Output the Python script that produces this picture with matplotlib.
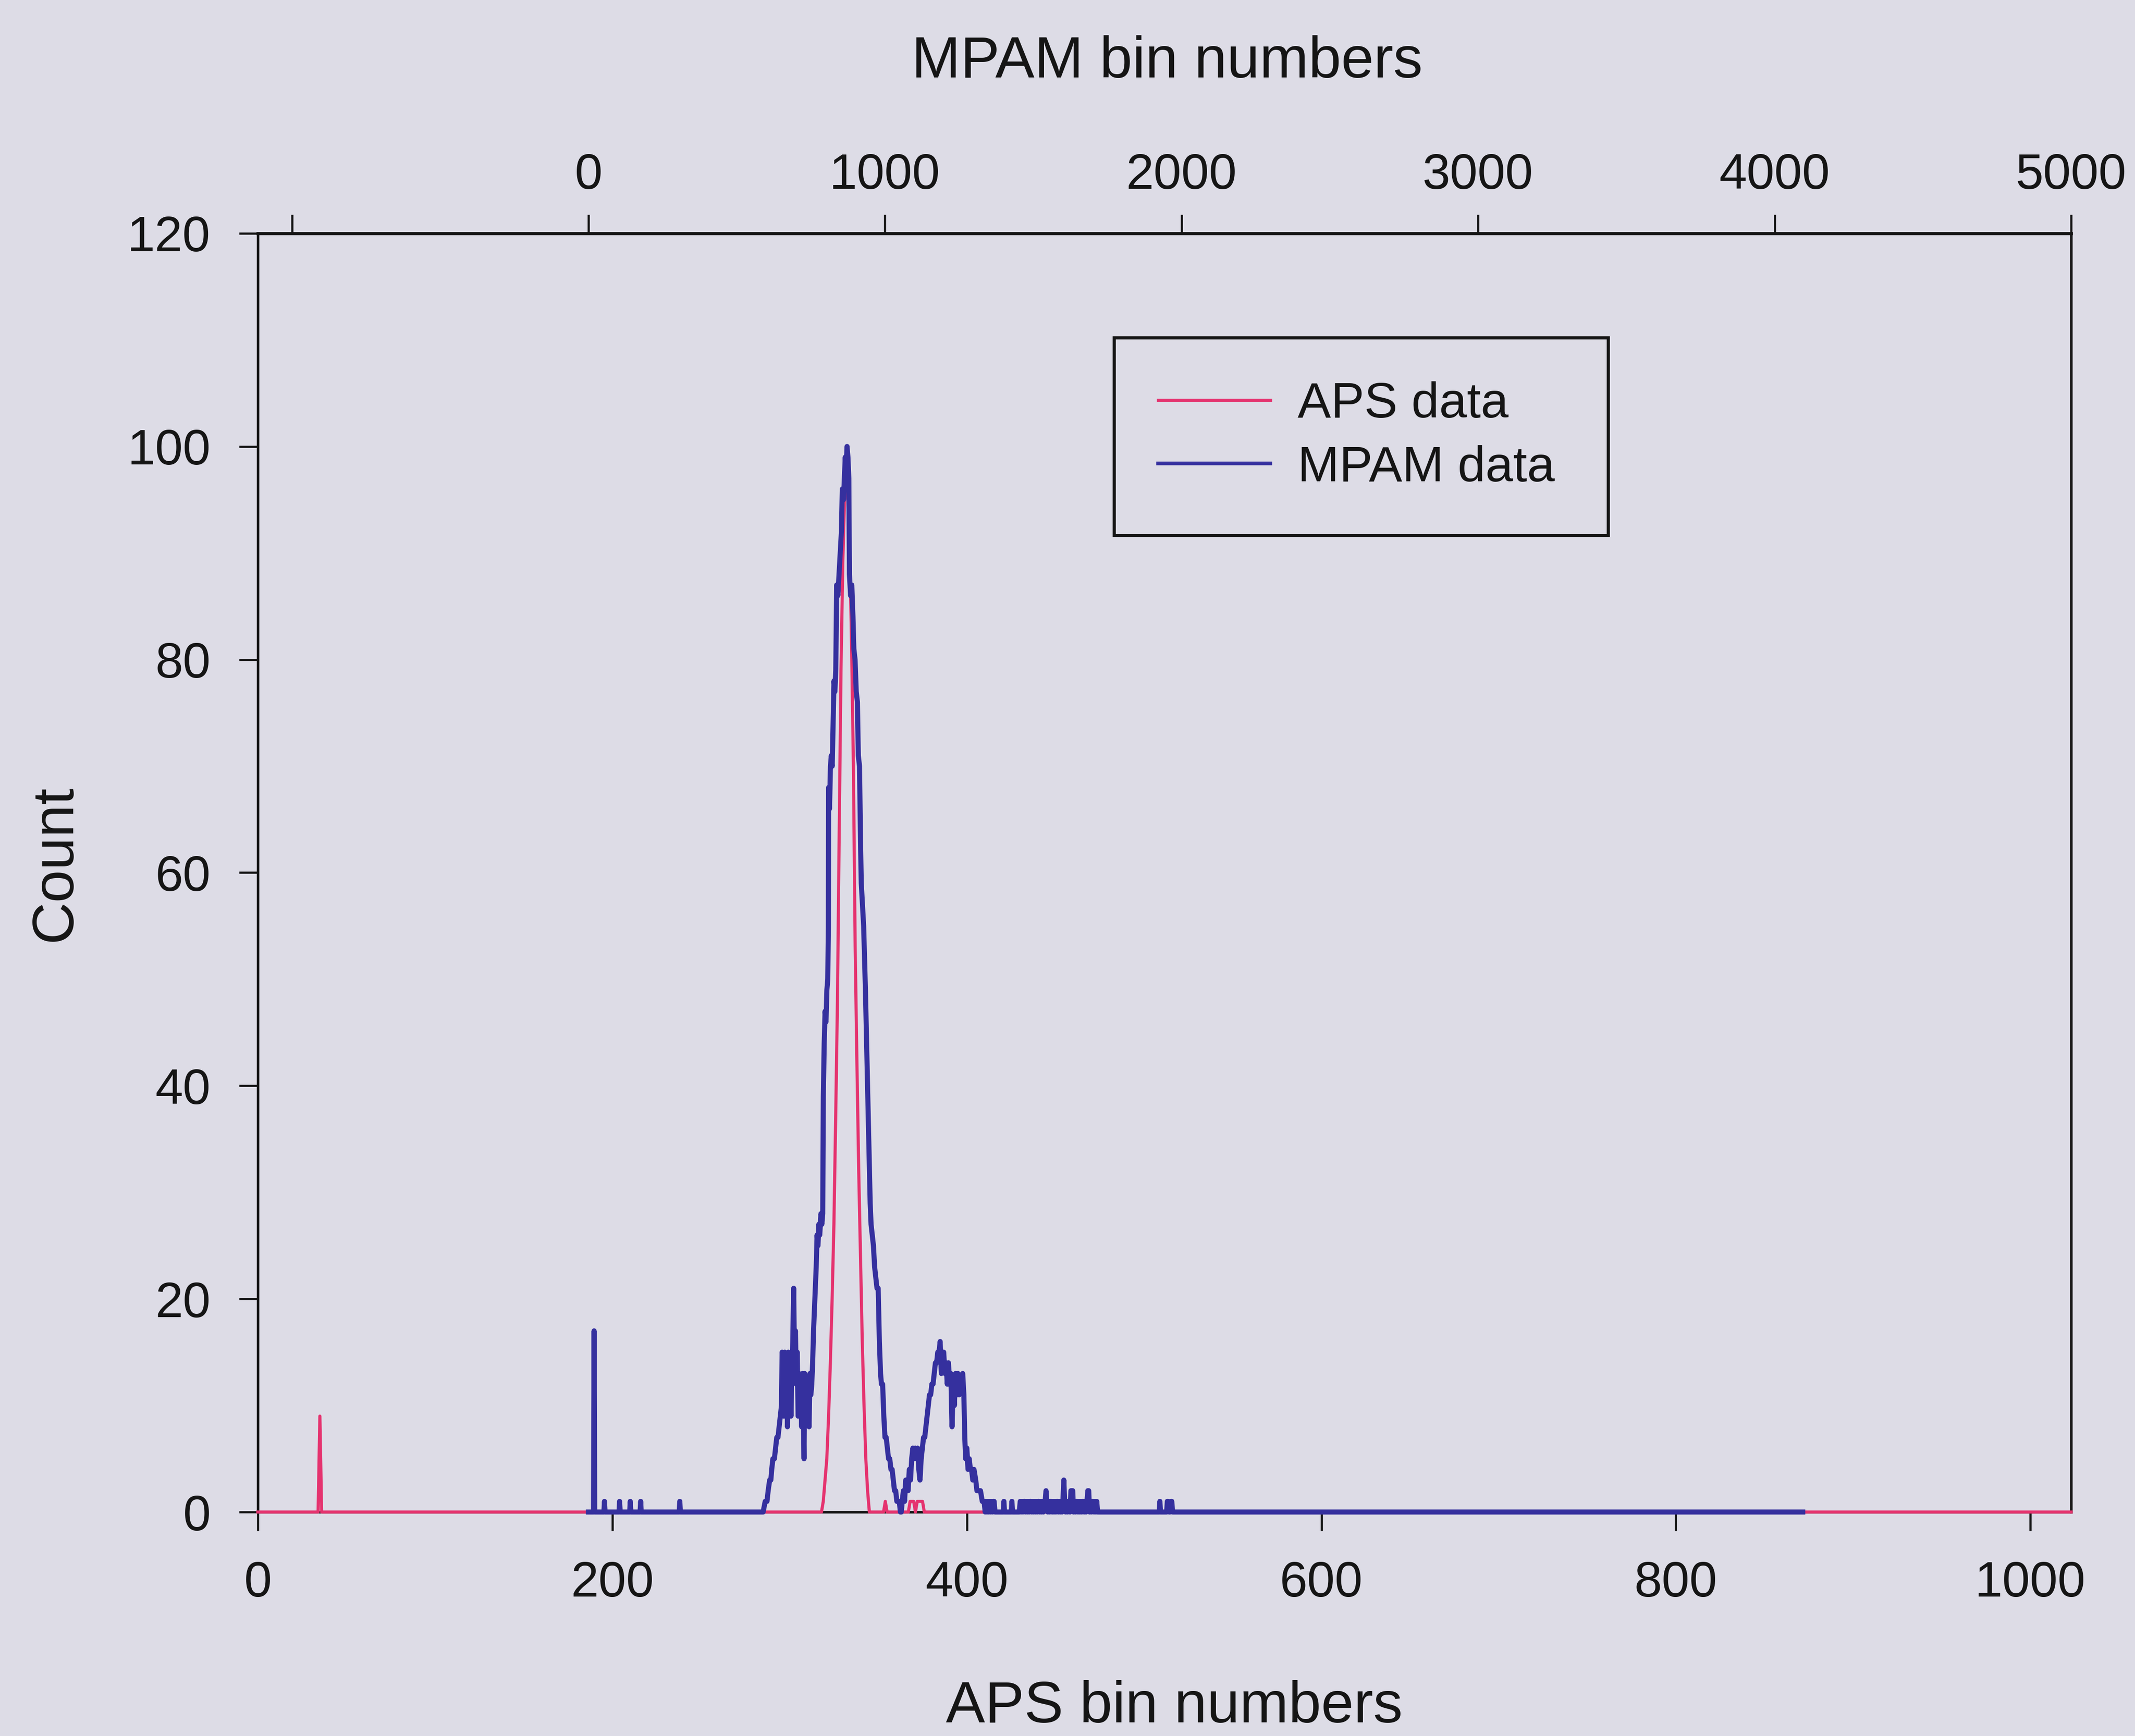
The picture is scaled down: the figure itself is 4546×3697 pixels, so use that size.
import numpy as np
import matplotlib
matplotlib.use("Agg")
import matplotlib.pyplot as plt

plt.rcParams['font.family'] = ['Liberation Sans', 'DejaVu Sans']

# ---------------- data ----------------
# APS histogram: 1024 bins, all empty except the bins listed here
aps_nbins = 1024
aps_nonzero_bins = [35,
                    319, 320, 321, 322, 323, 324, 325, 326, 327, 328, 329, 330,
                    331, 332, 333, 334, 335, 336, 337, 338, 339, 340, 341, 342,
                    343, 344,
                    354,
                    368, 369, 370, 372, 373, 374, 375]
aps_nonzero_counts = [9,
                      1, 3, 5, 9, 14, 20, 27, 37, 48, 64, 79, 89,
                      95, 97, 95, 90, 81, 70, 53, 42, 32, 24, 16, 10,
                      5, 2,
                      1,
                      1, 1, 1, 1, 1, 1, 1]

# MPAM histogram (4096 channels), traced as bin / count vertices
mpam_bins = [
    0, 17, 19, 21, 52, 54, 56, 103, 105, 107, 139, 141, 143, 174, 176, 178,
    306, 308, 310, 589, 596, 602, 606, 611, 615, 618, 622, 627, 631, 635,
    639, 643, 647, 651, 653, 656, 659, 662, 665, 668, 671, 674, 677, 680,
    683, 686, 689, 692, 695, 698, 701, 704, 707, 710, 713, 716, 719, 722,
    725, 727, 729, 732, 735, 738, 741, 744, 747, 750, 753, 756, 759, 762,
    765, 768, 771, 774, 777, 780, 784, 787, 790, 792, 795, 798, 801, 804,
    807, 809, 810, 813, 816, 819, 822, 825, 828, 831, 834, 837, 841, 845,
    849, 853, 856, 860, 863, 866, 869, 872, 875, 878, 880, 884, 888, 892,
    895, 899, 903, 907, 910, 914, 918, 920, 924, 928, 931, 934, 938, 942,
    946, 950, 953, 957, 961, 965, 969, 973, 977, 981, 985, 988, 992, 996,
    1000, 1004, 1008, 1012, 1016, 1020, 1024, 1028, 1032, 1036, 1040, 1044,
    1048, 1052, 1055, 1058, 1062, 1066, 1070, 1074, 1078, 1082, 1086, 1090,
    1094, 1098, 1102, 1106, 1110, 1114, 1118, 1122, 1126, 1130, 1134, 1138,
    1142, 1146, 1150, 1154, 1158, 1162, 1166, 1170, 1174, 1178, 1182, 1186,
    1190, 1194, 1198, 1202, 1206, 1210, 1214, 1218, 1222, 1226, 1230, 1234,
    1238, 1242, 1246, 1250, 1254, 1258, 1262, 1266, 1269, 1272, 1276, 1280,
    1284, 1288, 1292, 1296, 1300, 1306, 1310, 1316, 1322, 1328, 1334, 1338,
    1341, 1344, 1347, 1350, 1353, 1356, 1359, 1362, 1365, 1368, 1371, 1399,
    1401, 1403, 1426, 1428, 1430, 1453, 1456, 1459, 1462, 1465, 1468, 1471,
    1474, 1477, 1480, 1483, 1486, 1489, 1492, 1495, 1498, 1501, 1504, 1507,
    1510, 1513, 1516, 1519, 1522, 1525, 1528, 1531, 1534, 1537, 1540, 1543,
    1546, 1549, 1552, 1555, 1558, 1561, 1564, 1567, 1570, 1573, 1576, 1579,
    1582, 1585, 1588, 1591, 1594, 1597, 1600, 1603, 1606, 1609, 1612, 1615,
    1618, 1621, 1624, 1627, 1630, 1633, 1636, 1639, 1642, 1645, 1648, 1651,
    1654, 1657, 1660, 1663, 1666, 1669, 1672, 1675, 1678, 1681, 1684, 1687,
    1690, 1693, 1696, 1699, 1702, 1705, 1708, 1711, 1714, 1717, 1925, 1927,
    1929, 1950, 1952, 1955, 1958, 1961, 1964, 1967, 1970, 4095]
mpam_counts = [
    0, 0, 17, 0, 0, 1, 0, 0, 1, 0, 0, 1, 0, 0, 1, 0,
    0, 1, 0, 0, 1, 1, 2, 3, 3, 4, 5, 5, 6, 7,
    7, 8, 9, 10, 15, 12, 9, 15, 11, 14, 8, 15, 10, 14,
    9, 13, 16, 21, 14, 17, 12, 15, 9, 13, 10, 12, 8, 13,
    9, 5, 13, 10, 12, 9, 12, 8, 13, 11, 12, 14, 17, 19,
    21, 23, 26, 25, 27, 26, 28, 27, 28, 39, 44, 47, 46, 49,
    50, 55, 68, 66, 70, 71, 70, 74, 78, 77, 79, 87, 86, 88,
    90, 92, 96, 95, 97, 99, 98, 100, 99, 97, 88, 86, 87, 84,
    81, 80, 77, 76, 71, 70, 62, 59, 57, 55, 52, 49, 44, 39,
    34, 29, 27, 26, 25, 23, 22, 21, 21, 16, 13, 12, 12, 9,
    7, 7, 6, 5, 5, 4, 4, 3, 2, 2, 1, 1,
    1, 0, 0, 1, 2, 1, 3, 3, 2, 4, 3, 5,
    6, 5, 6, 5, 6, 4, 3, 5, 6, 7, 7, 8,
    9, 10, 11, 11, 12, 12, 13, 14, 14, 15, 15, 16,
    13, 15, 15, 13, 14, 12, 14, 12, 13, 8, 12, 10,
    13, 11, 13, 11, 12, 12, 13, 11, 7, 5, 6, 4,
    5, 4, 4, 3, 4, 3, 2, 2, 2, 1, 1, 0,
    1, 0, 1, 0, 1, 0, 1, 0, 1, 1, 0, 0,
    1, 0, 0, 1, 0, 0, 1, 0, 1, 0, 1, 1,
    0, 1, 0, 1, 0, 1, 1, 0, 1, 0, 1, 0,
    1, 0, 1, 1, 0, 1, 0, 1, 0, 1, 1, 2,
    1, 0, 1, 0, 1, 1, 0, 1, 0, 1, 0, 1,
    1, 0, 1, 0, 1, 0, 1, 3, 1, 0, 1, 0,
    1, 1, 0, 2, 2, 2, 0, 1, 0, 1, 1, 0,
    1, 0, 1, 0, 1, 1, 0, 1, 0, 1, 2, 2,
    0, 1, 0, 1, 1, 0, 1, 0, 1, 0, 0, 1,
    0, 0, 1, 1, 0, 0, 1, 1, 0, 0]

aps_xticks = [0, 200, 400, 600, 800, 1000]
mpam_xticks = [-1000, 0, 1000, 2000, 3000, 4000, 5000]
mpam_xticklabels = ['', '0', '1000', '2000', '3000', '4000', '5000']
count_yticks = [0, 20, 40, 60, 80, 100, 120]

aps_bins = np.arange(aps_nbins)
aps_counts = np.zeros(aps_nbins)
aps_counts[aps_nonzero_bins] = aps_nonzero_counts

# ---------------- figure ----------------
W, H, DPI = 4546, 3697, 300
BG = '#dddce6'
INK = '#151515'
RED = '#e5336f'
BLUE = '#35309e'

fig = plt.figure(figsize=(W / DPI, H / DPI), dpi=DPI)
fig.patch.set_facecolor(BG)

left, right = 549 / W, 4410 / W
bottom, top = 1 - 3220 / H, 1 - 497 / H
ax = fig.add_axes([left, bottom, right - left, top - bottom])
ax.set_facecolor(BG)

red_line, = ax.plot(aps_bins, aps_counts, color=RED, lw=1.6,
                    solid_joinstyle='round', clip_on=False, zorder=3,
                    label='APS data')
ax.set_xlim(0, 1023)
ax.set_ylim(0, 120)
ax.set_xticks(aps_xticks)
ax.set_yticks(count_yticks)

ax2 = ax.twiny()
ax2.patch.set_visible(False)
blue_line, = ax2.plot(mpam_bins, mpam_counts, color=BLUE, lw=2.6,
                      solid_joinstyle='round', clip_on=False, zorder=3,
                      label='MPAM data')
ax2.set_xlim(-1115, 5000)
ax2.set_xticks(mpam_xticks)
ax2.set_xticklabels(mpam_xticklabels)

# frame: bottom/left/right on the APS axes, top on the MPAM axes
for s in ('bottom', 'left', 'right'):
    ax.spines[s].set_linewidth(1.3)
    ax.spines[s].set_color(INK)
    ax2.spines[s].set_visible(False)
ax.spines['top'].set_visible(False)
ax2.spines['top'].set_linewidth(1.6)
ax2.spines['top'].set_color(INK)

ax.tick_params(axis='x', which='both', bottom=True, top=False, direction='out',
               length=9.6, width=1.1, pad=15, labelsize=25.5,
               colors=INK)
ax.tick_params(axis='y', which='both', left=True, right=False, direction='out',
               length=9.6, width=1.1, pad=14.5, labelsize=25.5,
               colors=INK)
ax2.tick_params(axis='x', which='both', top=True, bottom=False, direction='out',
                length=9.6, width=1.1, pad=8, labelsize=25.5,
                colors=INK)

# axis titles
fig.text(2500 / W, 1 - 3668 / H, 'APS bin numbers', ha='center',
         va='baseline', fontsize=30, color=INK)
fig.text(2485 / W, 1 - 165 / H, 'MPAM bin numbers', ha='center',
         va='baseline', fontsize=30, color=INK)
fig.text(151 / W, 1 - 1838 / H, 'Count', ha='center', va='baseline',
         rotation=90, rotation_mode='anchor', fontsize=30, color=INK)

# legend
lx0, lx1 = 2372 / W, 3424 / W
ly0, ly1 = 1 - 1137 / H, 1 - 719 / H
leg = fig.legend([red_line, blue_line], ['APS data', 'MPAM data'],
                 loc='upper left',
                 bbox_to_anchor=(lx0, ly0, lx1 - lx0, ly1 - ly0),
                 bbox_transform=fig.transFigure, mode='expand',
                 fontsize=25.5, frameon=True, fancybox=False, shadow=False,
                 borderpad=0.88, labelspacing=0.34, handlelength=2.25,
                 handletextpad=0.55, borderaxespad=0.0)
frame = leg.get_frame()
frame.set_facecolor(BG)
frame.set_edgecolor(INK)
frame.set_linewidth(1.6)
frame.set_alpha(1.0)
for t in leg.get_texts():
    t.set_color(INK)
leg.legend_handles[0].set_linewidth(1.6)
leg.legend_handles[1].set_linewidth(1.9)

fig.savefig('out.png', dpi=DPI, facecolor=BG)
